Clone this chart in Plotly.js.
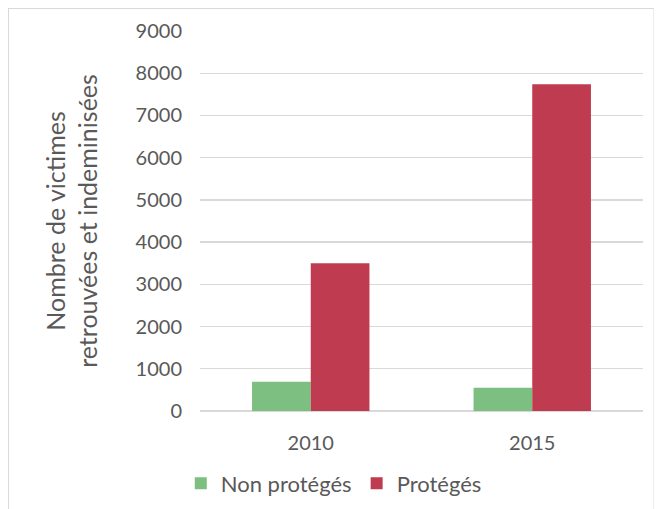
<!DOCTYPE html>
<html>
<head>
<meta charset="utf-8">
<script src="https://cdn.plot.ly/plotly-3.0.1.min.js"></script>
<style>
  html, body { margin: 0; padding: 0; background: #fff; }
  #wrap { position: relative; width: 659px; height: 509px; }
  #chart { width: 659px; height: 509px; }
  #frame { position: absolute; left: 8px; top: 8px; width: 646px; height: 510px;
           border-top: 1.5px solid #d9d9d9; border-left: 1.5px solid #d9d9d9; border-right: 1px solid #ececec;
           pointer-events: none; box-sizing: border-box; }
</style>
</head>
<body>
<div id="wrap">
  <div id="chart"></div>
  <div id="frame"></div>
</div>
<script>
const categories = ["2010", "2015"];
const nonProteges = [690, 550];
const proteges = [3500, 7740];
const seriesNames = ["Non protégés", "Protégés"];
const yTicks = [0, 1000, 2000, 3000, 4000, 5000, 6000, 7000, 8000, 9000];

const font = "Lato, 'Open Sans', sans-serif";
const grey = "#595959";

const data = [
  { type: "bar", name: seriesNames[0], x: categories, y: nonProteges,
    marker: { color: "#7dbf80" }, hoverinfo: "x+y" },
  { type: "bar", name: seriesNames[1], x: categories, y: proteges,
    marker: { color: "#be3b50" }, hoverinfo: "x+y" }
];

const layout = {
  width: 659, height: 509,
  margin: { l: 200, r: 16, t: 31, b: 98, autoexpand: false },
  paper_bgcolor: "#fff", plot_bgcolor: "#fff",
  barmode: "group", bargap: 0.47, bargroupgap: 0,
  font: { family: font, color: grey, size: 19 },
  xaxis: {
    type: "category",
    tickfont: { family: font, size: 20, color: grey },
    ticks: "", showline: false, showgrid: false, zeroline: false,
    ticklabelstandoff: 18, automargin: false
  },
  yaxis: {
    range: [0, 9000], tickvals: yTicks, ticktext: yTicks.map(String),
    tickfont: { family: font, size: 20, color: grey },
    showgrid: true, gridcolor: "#d9d9d9", gridwidth: 1.3,
    zeroline: true, zerolinecolor: "#d9d9d9", zerolinewidth: 1.3,
    showline: false, ticks: "", ticklabelstandoff: 17, automargin: false,
    title: { text: "Nombre de victimes<br>retrouvées et indeminisées",
             font: { family: font, size: 25, color: grey }, standoff: 30 }
  },
  legend: {
    orientation: "h", x: 0.302, xanchor: "center",
    yref: "container", y: 0.05, yanchor: "middle",
    font: { family: font, size: 22, color: grey },
    itemwidth: 30, traceorder: "normal"
  },
  showlegend: true
};

Plotly.newPlot("chart", data, layout, { displayModeBar: false, staticPlot: true });
</script>
</body>
</html>
